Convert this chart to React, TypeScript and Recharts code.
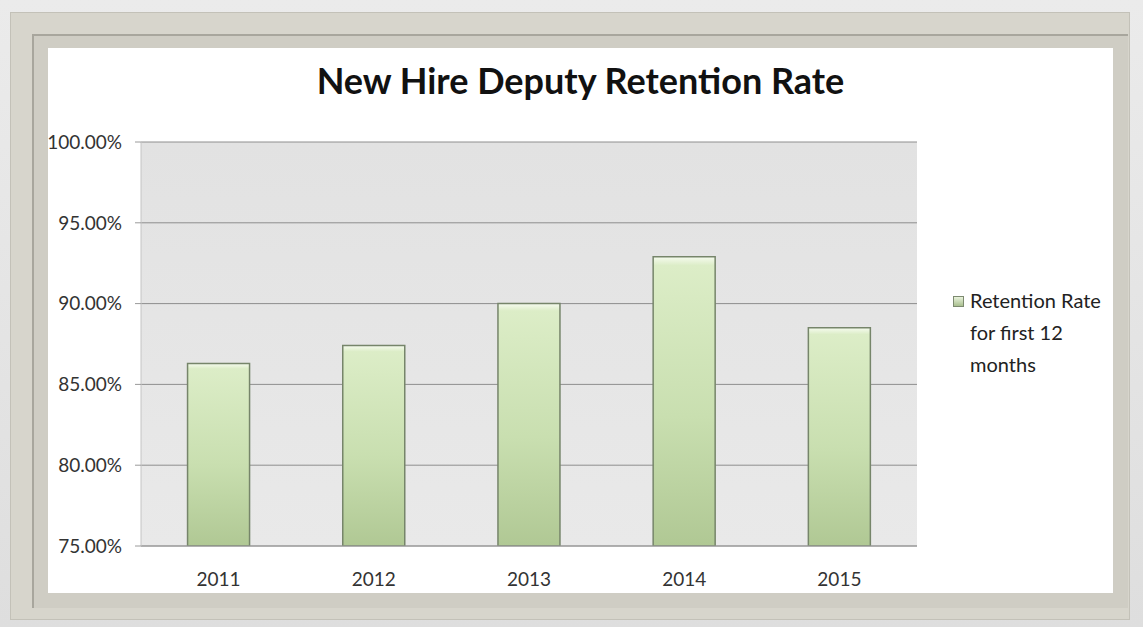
import { BarChart, Bar, XAxis, YAxis, CartesianGrid, Legend } from "recharts"

const years = ["2011", "2012", "2013", "2014", "2015"]
const retention = [86.3, 87.4, 90.0, 92.9, 88.5]
const yTicks = [75, 80, 85, 90, 95, 100]
const seriesName = "Retention Rate for first 12 months"

const data = years.map((year, i) => ({ year, rate: retention[i] }))

const FONT = "Lato, 'Open Sans', sans-serif"

// legend drawn by hand so the label wraps like the original
function RetentionLegend() {
  return (
    <div style={{ display: "flex", alignItems: "flex-start", fontFamily: FONT, fontSize: 20, color: "#222", lineHeight: "32px" }}>
      <div
        style={{
          width: 9,
          height: 9,
          marginTop: 12,
          marginRight: 6,
          flexShrink: 0,
          background: "linear-gradient(#e9f3dc, #a9bf8f)",
          border: "1px solid #7d8a70",
        }}
      />
      <div style={{ width: 140 }}>{seriesName}</div>
    </div>
  )
}

export default function App() {
  return (
    <div
      style={{
        position: "absolute",
        left: 0,
        top: 0,
        width: 1143,
        height: 627,
        background: "linear-gradient(#ebebeb, #dedede)",
        overflow: "hidden",
      }}
    >
      {/* picture frame */}
      <div
        style={{
          position: "absolute",
          left: 10,
          top: 12,
          width: 1120,
          height: 608,
          background: "#d7d5cc",
          border: "1px solid #c3c1b8",
          boxSizing: "border-box",
        }}
      />
      <div
        style={{
          position: "absolute",
          left: 32,
          top: 34,
          width: 1096,
          height: 574,
          background: "#cfcdc4",
          borderLeft: "2px solid #a8a69d",
          borderTop: "2px solid #a8a69d",
          boxSizing: "border-box",
        }}
      />
      <div
        style={{
          position: "absolute",
          left: 48,
          top: 48,
          width: 1065,
          height: 545,
          background: "#ffffff",
        }}
      >
        <div
          style={{
            position: "absolute",
            left: 0,
            top: 10,
            width: 1065,
            textAlign: "center",
            fontFamily: FONT,
            fontWeight: 700,
            fontSize: 36,
            color: "#111",
          }}
        >
          New Hire Deputy Retention Rate
        </div>
        <BarChart
          width={1065}
          height={545}
          data={data}
          margin={{ top: 94, right: 41, bottom: 11, left: 0 }}
          barCategoryGap="30%"
        >
          <defs>
            <linearGradient id="barFill" x1="0" y1="0" x2="0" y2="1">
              <stop offset="0%" stopColor="#f6fbef" />
              <stop offset="3%" stopColor="#dcedc7" />
              <stop offset="55%" stopColor="#c9dfb0" />
              <stop offset="100%" stopColor="#b0c894" />
            </linearGradient>
            <linearGradient id="plotFill" x1="0" y1="0" x2="0" y2="1">
              <stop offset="0%" stopColor="#e2e2e2" />
              <stop offset="100%" stopColor="#e9e9e9" />
            </linearGradient>
          </defs>
          <CartesianGrid
            vertical={false}
            stroke="#8e8e8e"
            strokeWidth={1}
            fill="url(#plotFill)"
            fillOpacity={1}
          />
          <XAxis
            dataKey="year"
            height={36}
            axisLine={{ stroke: "#9a9a9a" }}
            tickLine={false}
            tick={{ fontFamily: FONT, fontSize: 19, fill: "#333" }}
            tickMargin={21}
          />
          <YAxis
            domain={[75, 100]}
            ticks={yTicks}
            width={93}
            axisLine={{ stroke: "#c4c4c4" }}
            tickLine={{ stroke: "#9a9a9a" }}
            tickSize={6}
            tickMargin={13}
            tick={{ fontFamily: FONT, fontSize: 19, fill: "#333" }}
            tickFormatter={(v: number) => `${v.toFixed(2)}%`}
            allowDataOverflow
          />
          <Legend
            layout="vertical"
            align="right"
            verticalAlign="middle"
            wrapperStyle={{ left: 905, top: 236, width: 155 }}
            content={() => <RetentionLegend />}
          />
          <Bar
            dataKey="rate"
            name={seriesName}
            fill="url(#barFill)"
            stroke="#76856a"
            strokeWidth={1.5}
            isAnimationActive={false}
          />
        </BarChart>
      </div>
    </div>
  )
}
